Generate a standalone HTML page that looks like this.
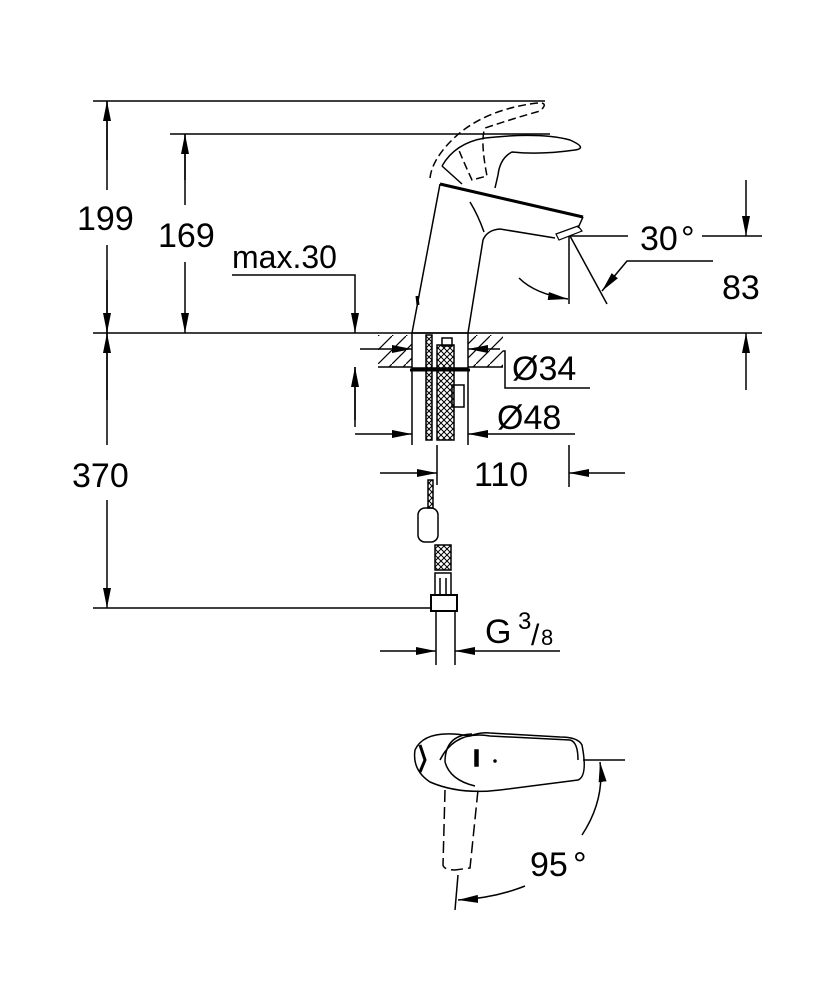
<!DOCTYPE html>
<html><head><style>body{margin:0;background:#fff}svg{display:block}text{font-family:"Liberation Sans",sans-serif;fill:#000}</style></head>
<body>
<svg width="834" height="1000" viewBox="0 0 834 1000" xmlns="http://www.w3.org/2000/svg">
<defs>
<marker id="A" viewBox="0 0 20 10" refX="20" refY="5" markerWidth="20" markerHeight="10" markerUnits="userSpaceOnUse" orient="auto"><path d="M0,1 L20,5 L0,9z" fill="#000"/></marker>
<pattern id="h" width="14" height="14" patternUnits="userSpaceOnUse"><path d="M0,14 L14,0" stroke="#000" stroke-width="1.2"/></pattern>
<pattern id="x" width="6" height="6" patternUnits="userSpaceOnUse"><path d="M0,0L6,6M6,0L0,6" stroke="#000" stroke-width="1"/></pattern>
</defs>
<g stroke="#000" stroke-width="1.5" fill="none">
<line x1="93" y1="101" x2="545" y2="101"/>
<line x1="170" y1="134" x2="550" y2="134"/>
<line x1="93" y1="333" x2="762" y2="333"/>
<line x1="93" y1="608" x2="432" y2="608"/>
<line x1="570" y1="236" x2="628" y2="236"/>
<line x1="702" y1="236" x2="762" y2="236"/>
<line x1="107" y1="160" x2="107" y2="101" marker-end="url(#A)"/>
<line x1="107" y1="280" x2="107" y2="333" marker-end="url(#A)"/>
<line x1="107" y1="101" x2="107" y2="190"/><line x1="107" y1="245" x2="107" y2="333"/>
<line x1="185" y1="180" x2="185" y2="134" marker-end="url(#A)"/>
<line x1="185" y1="134" x2="185" y2="205"/><line x1="185" y1="262" x2="185" y2="333" marker-end="url(#A)"/>
<polyline points="232,275 355,275 355,333" marker-end="url(#A)"/>
<line x1="107" y1="333" x2="107" y2="445"/>
<line x1="107" y1="400" x2="107" y2="333" marker-end="url(#A)"/>
<line x1="107" y1="500" x2="107" y2="608" marker-end="url(#A)"/>
<line x1="746" y1="180" x2="746" y2="236" marker-end="url(#A)"/>
<line x1="746" y1="390" x2="746" y2="333" marker-end="url(#A)"/>
<line x1="569" y1="236" x2="569" y2="304"/>
<line x1="570" y1="236" x2="607" y2="304"/>
<polyline points="713,261 627,261 602,291" marker-end="url(#A)"/>
<path d="M519,278 Q535,294 568,299" marker-end="url(#A)"/>
<path d="M412,333 L440,184"/>
<path d="M440,184 L583,217" stroke-width="3"/>
<path d="M468,333 L483,240 Q487,230 500,229 L555,238"/>
<path d="M470,202 Q478,215 484,232"/>
<path d="M583,217 L578,228"/>
<path d="M556,234 L578,226 L582,231 L559,240 Z" stroke-width="1.2"/>
<path d="M418,305 L417,296" stroke-width="3"/>
<path d="M442,166 Q455,143 485,138 Q540,132 570,140 Q588,148 575,150 Q540,155 512,152 Q500,158 498,175 L495,188"/>
<path d="M442,166 L462,184"/>
<path d="M430,178 Q432,160 452,140 Q480,112 530,104 Q552,100 540,111 Q515,118 485,128 Q480,140 487,176 L472,180 Q465,165 458,148" stroke-dasharray="8,4"/>
<rect x="378" y="335" width="34" height="32" fill="url(#h)" stroke="none"/>
<rect x="468" y="335" width="35" height="32" fill="url(#h)" stroke="none"/>
<line x1="378" y1="367" x2="412" y2="367"/><line x1="468" y1="367" x2="503" y2="367"/>
<rect x="412" y="333" width="56" height="35"/>
<line x1="410" y1="370" x2="470" y2="370" stroke-width="3"/>
<line x1="360" y1="349" x2="412" y2="349" marker-end="url(#A)"/>
<line x1="500" y1="349" x2="468" y2="349" marker-end="url(#A)"/>
<polyline points="503,351 505,351 505,388 590,388"/>
<rect x="426" y="335" width="6" height="105" fill="url(#x)"/>
<rect x="437" y="345" width="17" height="95" fill="url(#x)"/>
<rect x="442" y="338" width="10" height="8"/>
<rect x="452" y="385" width="12" height="22"/>
<line x1="412" y1="370" x2="412" y2="445"/><line x1="468" y1="370" x2="468" y2="445"/>
<line x1="355" y1="434" x2="412" y2="434" marker-end="url(#A)"/>
<polyline points="575,434 468,434" marker-end="url(#A)"/>
<line x1="355" y1="367" x2="355" y2="427"/>
<line x1="355" y1="420" x2="355" y2="367" marker-end="url(#A)"/>
<line x1="437" y1="445" x2="437" y2="485"/><line x1="569" y1="445" x2="569" y2="487"/>
<line x1="380" y1="473" x2="437" y2="473" marker-end="url(#A)"/>
<line x1="625" y1="473" x2="569" y2="473" marker-end="url(#A)"/>
<rect x="428" y="480" width="5" height="28" fill="url(#x)"/>
<rect x="418" y="508" width="20" height="34" rx="7"/>
<rect x="435" y="545" width="16" height="25" fill="url(#x)"/>
<rect x="435" y="573" width="16" height="22"/>
<line x1="440" y1="578" x2="440" y2="595"/><line x1="446" y1="578" x2="446" y2="595"/>
<rect x="431" y="595" width="26" height="16" stroke-width="2"/>
<line x1="436" y1="611" x2="436" y2="665"/><line x1="455" y1="611" x2="455" y2="665"/>
<line x1="380" y1="651" x2="436" y2="651" marker-end="url(#A)"/>
<line x1="560" y1="651" x2="455" y2="651" marker-end="url(#A)"/>
<path d="M470,736 Q425,728 415,750 Q412,770 430,782 Q460,795 500,790 L578,780 Q588,776 582,745 Q578,737 560,737 L490,733 Q480,732 470,736 Z"/>
<path d="M445,762 Q445,735 472,734 M445,762 Q450,780 475,786"/>
<path d="M440,760 Q455,730 490,736 L570,740 Q578,742 578,760"/>
<path d="M420,745 L425,760 L420,772" stroke-width="3"/>
<rect x="475" y="750" width="3" height="16" fill="#000"/>
<circle cx="495" cy="761" r="1" fill="#000"/>
<path d="M445,790 L443,865 Q444,870 455,870 L470,868 L478,790" stroke-dasharray="12,5"/>
<line x1="583" y1="760" x2="625" y2="760"/>
<line x1="458" y1="875" x2="455" y2="910"/>
<path d="M582,835 Q605,800 600,762" marker-end="url(#A)"/>
<path d="M525,886 Q495,898 458,900" marker-end="url(#A)"/>
</g>
<g font-size="34">
<text x="77" y="230">199</text>
<text x="158" y="247">169</text>
<text x="232" y="268" font-size="32">max.30</text>
<text x="72" y="487">370</text>
<text x="640" y="250">30</text>
<text x="681" y="250" font-size="34">°</text>
<text x="722" y="299">83</text>
<text x="512" y="380">Ø34</text>
<text x="497" y="429">Ø48</text>
<text x="474" y="486">110</text>
<text x="485" y="643">G</text>
<text x="518" y="629" font-size="24">3</text>
<text x="531" y="645" font-size="30">/</text>
<text x="541" y="645" font-size="22">8</text>
<text x="530" y="876">95</text>
<text x="573" y="876" font-size="34">°</text>
</g>
</svg>
</body></html>
